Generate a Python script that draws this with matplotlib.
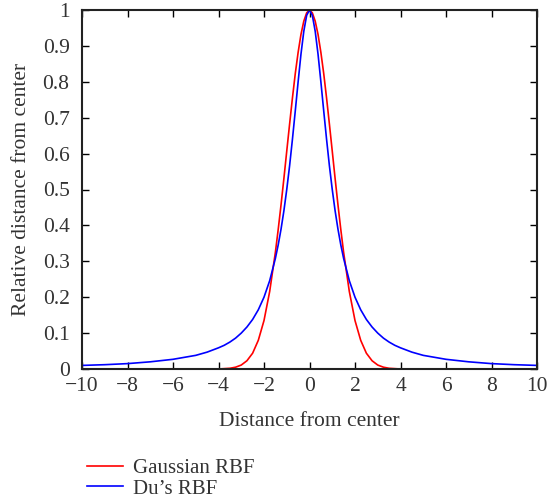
import numpy as np
import matplotlib
matplotlib.use("Agg")
import matplotlib.pyplot as plt

# values (symmetric about 0)
x_half = [0, 0.125, 0.25, 0.375, 0.5, 0.625, 0.75, 0.875, 1.0, 1.125, 1.25,
          1.375, 1.5, 1.75, 2.0, 2.25, 2.5, 2.75, 3.0, 3.25, 3.5, 3.75, 4.0,
          4.5, 5, 6, 7, 8, 9, 10]
gauss_half = [1.0, 0.992, 0.969, 0.932, 0.882, 0.823, 0.755, 0.682, 0.607,
              0.531, 0.458, 0.389, 0.325, 0.216, 0.135, 0.080, 0.044, 0.023,
              0.011, 0.005, 0.002, 0.001, 0.0, 0.0, 0.0, 0.0, 0.0, 0.0, 0.0, 0.0]
du_half = [1.0, 0.985, 0.941, 0.877, 0.800, 0.719, 0.640, 0.566, 0.500,
           0.441, 0.390, 0.346, 0.308, 0.246, 0.200, 0.165, 0.138, 0.117,
           0.100, 0.086, 0.075, 0.066, 0.059, 0.047, 0.038, 0.027, 0.020,
           0.015, 0.012, 0.010]

x_ticks = [-10, -8, -6, -4, -2, 0, 2, 4, 6, 8, 10]
y_ticks = [0, 0.1, 0.2, 0.3, 0.4, 0.5, 0.6, 0.7, 0.8, 0.9, 1]
series_names = ["Gaussian RBF", "Du\u2019s RBF"]

# mirror the half-curves
x = np.concatenate([-np.array(x_half[:0:-1]), np.array(x_half)])
gauss = np.concatenate([np.array(gauss_half[:0:-1]), np.array(gauss_half)])
du = np.concatenate([np.array(du_half[:0:-1]), np.array(du_half)])

plt.rcParams['font.family'] = ['Liberation Serif', 'DejaVu Serif']
plt.rcParams['font.size'] = 15

fig = plt.figure(figsize=(5.48, 5.03), dpi=100)
ax = fig.add_axes([82 / 548, 1 - 369 / 503, (537 - 82) / 548, (369 - 10) / 503])

ax.plot(x, gauss, color='#ff0000', lw=1.2, label=series_names[0])
ax.plot(x, du, color='#0000ff', lw=1.2, label=series_names[1])

ax.set_xlim(-10, 10)
ax.set_ylim(0, 1)
ax.set_xticks(x_ticks)
ax.set_xticklabels([str(t).replace('-', '\u2212') for t in x_ticks])
ax.set_yticks(y_ticks)
ax.set_yticklabels(['%g' % t for t in y_ticks])
ax.tick_params(direction='in', top=True, right=True, length=5, width=1,
               labelsize=15.5, colors='black')
ax.tick_params(axis='x', pad=6, labelcolor='#333333')
ax.tick_params(axis='y', pad=9, labelcolor='#333333')
for s in ax.spines.values():
    s.set_linewidth(1.5)
    s.set_color('#222222')

ax.set_xlabel("Distance from center", fontsize=15.5, color='#333333', labelpad=11)
ax.set_ylabel("Relative distance from center", fontsize=15.5, color='#333333', labelpad=8)

fig.legend(loc='upper left', bbox_to_anchor=(77 / 548, 1 - 448 / 503),
           frameon=False, handlelength=1.7, handletextpad=0.5,
           labelspacing=0.05, borderpad=0, fontsize=15,
           labelcolor='#333333')

fig.savefig("out.png", dpi=100)
